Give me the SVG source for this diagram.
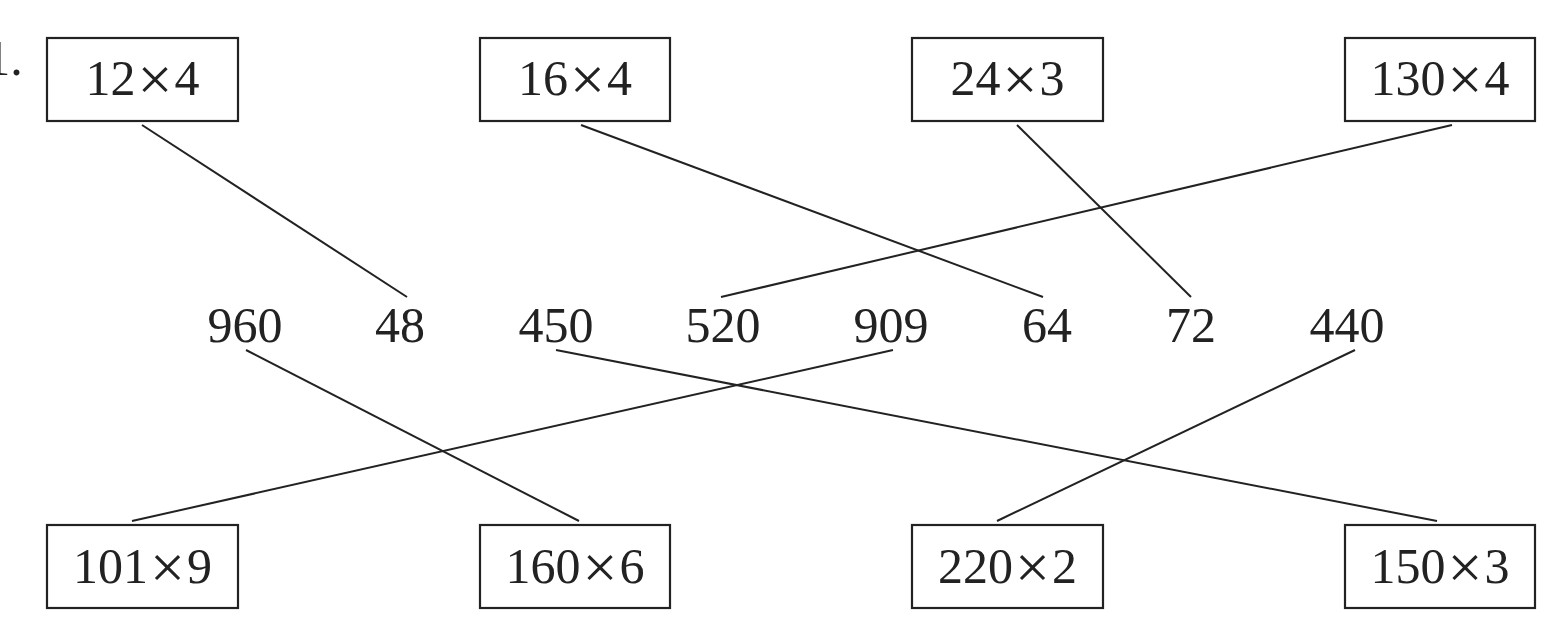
<svg xmlns="http://www.w3.org/2000/svg" width="1558" height="638" viewBox="0 0 1558 638">
<style>
.box rect{fill:#fff;stroke:#222;stroke-width:2.2}
text{font-family:"Liberation Serif","Noto Sans CJK SC",serif;font-size:50px;fill:#222;text-anchor:middle}
.x{font-size:62px}
#connectors line{stroke:#222;stroke-width:2}
</style>
<rect width="1558" height="638" fill="#fff"/>
<text x="4" y="75" style="text-anchor:middle">1.</text>
<g id="connectors">
<line x1="142" y1="125" x2="407" y2="297"/>
<line x1="581" y1="125" x2="1043" y2="297"/>
<line x1="1017" y1="125" x2="1191" y2="297"/>
<line x1="1452" y1="125" x2="721" y2="297"/>
<line x1="246" y1="350" x2="579" y2="521"/>
<line x1="893" y1="350" x2="132" y2="521"/>
<line x1="556" y1="350" x2="1437" y2="521"/>
<line x1="1355" y1="350" x2="997" y2="521"/>
</g>
<g id="n1" class="box"><rect x="47" y="38" width="191" height="83"/><text x="142.5" y="95">12<tspan class="x" dx="2" dy="5">×</tspan><tspan dx="2" dy="-5">4</tspan></text></g>
<g id="n2" class="box"><rect x="480" y="38" width="190" height="83"/><text x="575" y="95">16<tspan class="x" dx="2" dy="5">×</tspan><tspan dx="2" dy="-5">4</tspan></text></g>
<g id="n3" class="box"><rect x="912" y="38" width="191" height="83"/><text x="1007.5" y="95">24<tspan class="x" dx="2" dy="5">×</tspan><tspan dx="2" dy="-5">3</tspan></text></g>
<g id="n4" class="box"><rect x="1345" y="38" width="190" height="83"/><text x="1440" y="95">130<tspan class="x" dx="2" dy="5">×</tspan><tspan dx="2" dy="-5">4</tspan></text></g>
<g id="n5" class="box"><rect x="47" y="525" width="191" height="83"/><text x="142.5" y="583">101<tspan class="x" dx="2" dy="5">×</tspan><tspan dx="2" dy="-5">9</tspan></text></g>
<g id="n6" class="box"><rect x="480" y="525" width="190" height="83"/><text x="575" y="583">160<tspan class="x" dx="2" dy="5">×</tspan><tspan dx="2" dy="-5">6</tspan></text></g>
<g id="n7" class="box"><rect x="912" y="525" width="191" height="83"/><text x="1007.5" y="583">220<tspan class="x" dx="2" dy="5">×</tspan><tspan dx="2" dy="-5">2</tspan></text></g>
<g id="n8" class="box"><rect x="1345" y="525" width="190" height="83"/><text x="1440" y="583">150<tspan class="x" dx="2" dy="5">×</tspan><tspan dx="2" dy="-5">3</tspan></text></g>
<g id="v960"><text x="245" y="342">960</text></g>
<g id="v48"><text x="400" y="342">48</text></g>
<g id="v450"><text x="556" y="342">450</text></g>
<g id="v520"><text x="723" y="342">520</text></g>
<g id="v909"><text x="891" y="342">909</text></g>
<g id="v64"><text x="1047" y="342">64</text></g>
<g id="v72"><text x="1191" y="342">72</text></g>
<g id="v440"><text x="1347" y="342">440</text></g>
</svg>
